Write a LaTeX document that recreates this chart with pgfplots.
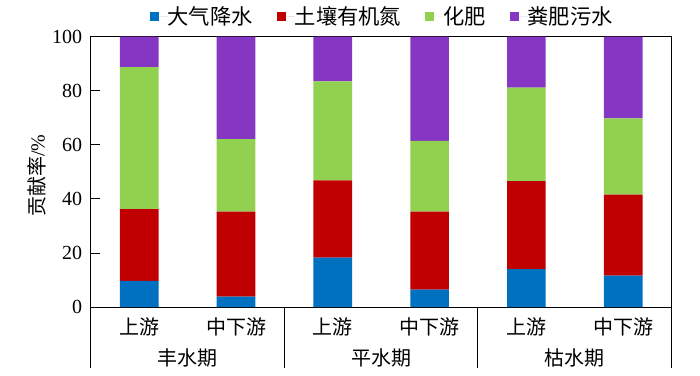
\documentclass[border=0pt]{standalone}
\usepackage{pgfplots}
\pgfplotsset{compat=1.18}
\usepackage{fontspec}
\setmainfont{Liberation Serif}
\newfontfamily\cjk{Noto Sans CJK SC}
\definecolor{cblue}{HTML}{0070C0}
\definecolor{cred}{HTML}{C00000}
\definecolor{cgreen}{HTML}{92D050}
\definecolor{cpurple}{HTML}{8537C4}
\begin{document}
\fontsize{20bp}{24bp}\selectfont
\begin{tikzpicture}
\begin{axis}[
  name=ax,
  scale only axis,
  width=581bp, height=270.6bp,
  ybar stacked, bar width=0.4,
  xmin=-0.5, xmax=5.5, ymin=0, ymax=100,
  xtick={0,1,2,3,4,5},
  xticklabels={上游,中下游,上游,中下游,上游,中下游},
  xticklabel style={font=\cjk, anchor=center, yshift=-20bp},
  x tick style={draw=none},
  ytick={0,20,40,60,80,100},
  ytick pos=left, tick align=inside,
  major tick length=9bp,
  y tick style={line width=0.9bp, black},
  yticklabel style={xshift=-2bp},
  /pgf/number format/assume math mode=true,
  axis line style={line width=1bp},
  ylabel={{\cjk 贡献率}/\%},
  every axis y label/.style={at={(rel axis cs:0,0.5)}, xshift=-54bp, yshift=-4bp, rotate=90, anchor=center},
  clip=false,
  legend style={at={(rel axis cs:0.5,1)}, anchor=center, yshift=20bp, draw=none, fill=none,
    legend columns=-1, font={\fontsize{21.3bp}{24bp}\cjk}, nodes={inner sep=0bp},
    /tikz/every even column/.append style={column sep=24bp},
    /tikz/every odd column/.append style={column sep=0bp}},
  legend image code/.code={\fill[#1] (0bp,-4.5bp) rectangle (9bp,4.5bp); \path (0bp,0bp) -- (18bp,0bp);},
]
\addplot[fill=cblue, draw=none] coordinates {(0,9.7) (1,3.9) (2,18.3) (3,6.5) (4,14.0) (5,11.6)};
\addplot[fill=cred, draw=none] coordinates {(0,26.5) (1,31.4) (2,28.6) (3,28.8) (4,32.6) (5,30.0)};
\addplot[fill=cgreen, draw=none] coordinates {(0,52.5) (1,26.8) (2,36.6) (3,26.2) (4,34.6) (5,28.2)};
\addplot[fill=cpurple, draw=none] coordinates {(0,11.3) (1,37.9) (2,16.5) (3,38.5) (4,18.8) (5,30.2)};
\legend{大气降水,土壤有机氮,化肥,粪肥污水}
\draw[line width=1bp] (axis cs:-0.5,0) -- ([yshift=-61bp]axis cs:-0.5,0);
\draw[line width=1bp] (axis cs:1.5,0) -- ([yshift=-61bp]axis cs:1.5,0);
\draw[line width=1bp] (axis cs:3.5,0) -- ([yshift=-61bp]axis cs:3.5,0);
\draw[line width=1bp] (axis cs:5.5,0) -- ([yshift=-61bp]axis cs:5.5,0);
\node[font=\cjk, anchor=center] at (axis cs:0.5,0) [yshift=-51bp] {丰水期};
\node[font=\cjk, anchor=center] at (axis cs:2.5,0) [yshift=-51bp] {平水期};
\node[font=\cjk, anchor=center] at (axis cs:4.5,0) [yshift=-51bp] {枯水期};
\end{axis}
\pgfresetboundingbox
\path (ax.south west) ++(-91bp,-68.7bp) coordinate (bl);
\path (ax.north east) ++(28.5bp,36.7bp) coordinate (tr);
\path (bl) rectangle (tr);
\end{tikzpicture}
\end{document}
